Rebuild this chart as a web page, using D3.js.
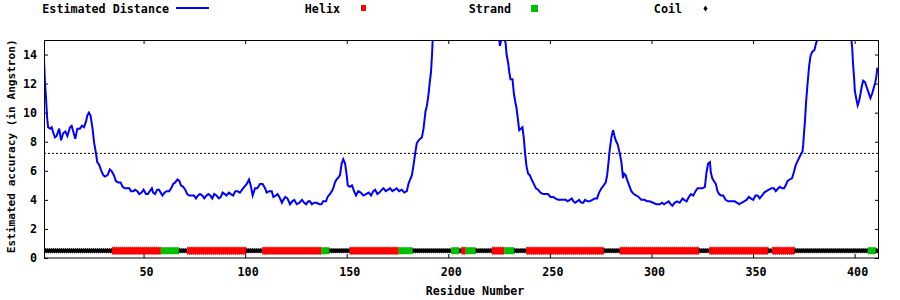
<!DOCTYPE html>
<html>
<head>
<meta charset="utf-8">
<script src="https://cdn.jsdelivr.net/npm/d3@7"></script>
<style>
  body { margin: 0; background: #fff; }
  text { font-family: "DejaVu Sans Mono", monospace; font-weight: bold; font-size: 11.7px; fill: #000; }
</style>
</head>
<body>
<svg id="chart" width="900" height="300"></svg>
<script>
// estimated distance per residue, [residue, angstrom]; values above 15 run off the top
var distance = [
  [1,13.6],[1.5,12.0],[2,11.0],[2.5,9.7],[3,9.0],[4,8.9],[4.8,9.0],[5.6,8.6],[6.4,8.3],[7.2,8.4],[8.5,8.9],[9.4,8.1],
  [10.5,8.6],[11.5,8.7],[12.5,8.4],[13.8,9.0],[14.6,9.1],[15.4,8.7],[16.4,8.2],[17.4,8.9],[18.7,8.9],[19.7,9.1],
  [20.7,9.0],[21.7,9.4],[22.3,9.8],[23.1,10.0],[23.9,9.8],[24.9,8.9],[25.7,7.9],[26.6,7.2],[27.2,6.6],[28.2,6.4],
  [29.2,6.0],[30.2,5.7],[31,5.6],[32.3,5.7],[33.4,6.1],[34.2,6.0],[35.4,5.7],[36.4,5.3],[37.5,5.2],[38.7,5.2],
  [39.7,4.9],[40.8,4.8],[42,4.8],[43,4.8],[43.8,4.6],[45,4.6],[45.9,4.7],[46.9,4.6],[47.9,4.4],[49,4.5],[50,4.7],
  [51.2,4.4],[52.1,4.4],[53.1,4.6],[54.1,4.8],[54.7,4.5],[55.7,4.4],[56.7,4.7],[57.7,4.7],[58.4,4.5],[59.3,4.3],
  [60.3,4.5],[61.3,4.6],[62.6,4.6],[63.6,4.8],[64.6,5.1],[65.6,5.2],[66.7,5.4],[67.6,5.3],[68.4,5.0],[69.5,4.9],
  [70.5,4.7],[71.5,4.4],[72.5,4.3],[73.6,4.3],[74.8,4.3],[75.8,4.1],[76.8,4.3],[77.8,4.4],[78.9,4.3],[79.9,4.1],
  [81,4.3],[81.9,4.4],[82.8,4.3],[83.8,4.1],[84.8,4.4],[85.9,4.3],[87.1,4.1],[88,4.2],[88.9,4.5],[90,4.4],
  [90.8,4.3],[92,4.5],[93,4.4],[94.1,4.3],[95.2,4.6],[96.2,4.6],[97.4,4.5],[99.1,4.8],[100.8,5.1],[101.9,5.4],
  [102.9,4.9],[103.7,4.3],[104.9,4.8],[106,4.8],[107.3,5.1],[108.6,5.1],[109.8,4.8],[110.6,4.5],[111.9,4.6],
  [113.1,4.6],[113.9,4.2],[115.2,4.3],[116,4.4],[117.2,4.1],[118.1,3.8],[118.8,4.0],[119.8,4.2],[120.8,4.1],
  [122.1,3.7],[123.2,3.9],[124.2,4.0],[125.4,3.7],[126.7,3.8],[128,4.0],[129.1,3.8],[130,3.7],[131.1,3.9],
  [131.9,3.9],[132.9,3.7],[133.9,3.8],[135.2,3.8],[136.5,3.7],[137.6,3.7],[138.4,3.9],[139.8,3.9],[140.6,4.2],
  [141.7,4.4],[142.7,4.6],[143.4,4.8],[144.2,5.2],[145,5.4],[146.2,5.6],[146.7,5.7],[147.5,6.5],[148.3,6.8],
  [149.2,6.5],[150,5.7],[150.5,5.0],[151.6,4.9],[152.6,5.0],[153.6,4.6],[154.6,4.3],[155.7,4.6],[156.9,4.5],
  [158.2,4.3],[159.5,4.4],[160.8,4.5],[162,4.3],[163.1,4.6],[164,4.7],[165.1,4.4],[166.1,4.5],[167.3,4.7],
  [168.1,4.8],[169.2,4.6],[170.4,4.7],[171.3,4.8],[172.5,4.6],[173.6,4.7],[174.6,4.8],[175.8,4.6],[177.1,4.7],
  [178.3,4.5],[179.6,4.6],[180.4,5.1],[181.2,5.4],[182.1,5.7],[182.9,6.4],[183.7,7.2],[184.5,7.9],[185.4,8.1],
  [186.2,8.2],[187,8.3],[187.8,8.9],[188.3,9.5],[188.8,10.1],[189.5,10.5],[190.3,11.3],[190.8,12.0],[191.5,12.8],
  [192,14.0],[192.3,15.0],[193,17],[200,22],[215,22],[224,17],[224.8,15.5],[225.4,14.6],[225.9,14.9],[226.5,15.2],
  [227.6,15.1],[228.2,14.8],[228.7,14.0],[229.5,13.4],[230,12.8],[230.6,12.3],[231.6,12.3],[232.3,11.3],
  [232.9,10.8],[233.6,10.3],[234.4,9.4],[234.9,8.8],[235.7,8.9],[236.5,9.0],[237.2,8.2],[237.8,7.2],[238.5,6.3],
  [239.3,5.8],[240.1,5.7],[241,5.4],[242.1,5.1],[243.1,4.8],[244.2,4.7],[245.4,4.5],[246.7,4.4],[248,4.4],
  [249.1,4.4],[250.3,4.2],[251.6,4.2],[252.7,4.1],[254.1,4.0],[255.4,4.0],[256.5,4.0],[257.8,4.0],[258.8,3.9],
  [259.8,4.0],[260.8,4.1],[261.6,3.9],[262.4,3.8],[263.4,3.9],[264.4,4.0],[265.5,3.8],[266.4,3.8],[267.3,4.0],
  [268.5,3.9],[269.6,3.9],[270.9,4.0],[272.1,4.1],[273.2,4.1],[274.2,4.5],[275.4,4.8],[276.5,5.0],[277.5,5.2],
  [278.2,5.7],[278.8,6.5],[279.5,7.5],[280.3,8.3],[281.1,8.8],[281.8,8.4],[282.4,8.1],[283.4,7.8],[284.4,7.2],
  [285.2,6.6],[286,5.5],[286.5,5.8],[287.3,5.7],[288.2,5.3],[289.3,4.9],[290.1,4.6],[291.3,4.4],[292.6,4.3],
  [293.7,4.2],[295,4.0],[296.7,4.0],[297.8,3.9],[299.1,3.9],[300.8,3.8],[302.4,3.7],[304.1,3.7],[305.2,3.8],
  [306.2,3.7],[307.3,3.8],[308.5,3.9],[309.5,3.7],[310.3,3.6],[311.4,3.8],[312.6,3.9],[313.9,3.8],[315.3,4.1],
  [316.1,4.0],[317.3,3.9],[318.4,4.2],[319.4,4.4],[320.6,4.3],[321.7,4.6],[322.7,4.8],[323.8,4.8],[325.1,4.8],
  [326.3,4.9],[327.1,5.9],[327.9,6.5],[328.8,6.6],[329.2,5.9],[329.9,5.5],[330.7,5.3],[331.7,5.1],[332.5,4.6],
  [333.3,4.4],[334.2,4.3],[335.3,4.3],[336.5,4.0],[337.8,3.9],[338.9,3.9],[339.9,3.9],[341,3.9],[342.2,3.8],
  [343.2,3.7],[344.3,3.8],[345.6,3.9],[346.8,4.0],[347.9,4.2],[348.9,4.1],[350.1,4.0],[351.2,4.3],[352.2,4.3],
  [353.3,4.1],[354.5,4.3],[355.5,4.5],[356.6,4.6],[357.8,4.7],[359.1,4.8],[360.2,4.8],[361.2,4.6],[362.4,4.8],
  [363.2,4.9],[364.3,4.8],[365.3,4.8],[366.1,5.0],[367,5.3],[368.1,5.4],[369.2,5.5],[370.1,5.9],[371,6.4],
  [371.7,6.6],[372.7,6.9],[373.8,7.2],[374.3,7.3],[374.7,7.8],[375.1,8.6],[375.6,9.5],[376.1,10.7],[376.6,11.6],
  [377.1,12.4],[377.6,13.2],[378.3,13.9],[379.2,14.2],[380.2,14.3],[380.9,14.7],[381.5,15.0],[382.5,17],[390,22],
  [397.5,18],[398.4,15.0],[398.8,14.5],[399.2,13.4],[399.7,12.5],[400.1,11.5],[400.9,10.9],[401.5,10.5],
  [402.2,10.8],[402.9,11.3],[403.5,11.8],[404.2,12.2],[405.1,12.1],[406.1,11.7],[406.8,11.4],[407.8,11.0],
  [408.6,11.3],[409.4,11.7],[410.2,12.1],[410.7,12.5],[411.2,13.1]
];

// secondary structure runs: [type, first residue, last residue]
var structure = [
  ["C",1,34],["H",35,58],["E",59,67],["C",68,71],["H",72,100],["C",101,108],["H",109,137],["E",138,141],
  ["C",142,151],["H",152,175],["E",176,182],["C",183,201],["E",202,205],["C",206,206],["H",207,208],
  ["E",209,213],["C",214,221],["H",222,227],["E",228,232],["C",233,238],["H",239,276],["C",277,284],
  ["H",285,323],["C",324,328],["H",329,357],["C",358,359],["H",360,370],["C",371,406],["E",407,410],["C",411,412]
];

var xTicks = [50, 100, 150, 200, 250, 300, 350, 400];
var yTicks = [0, 2, 4, 6, 8, 10, 12, 14];
var threshold = 7.2;
var ssLevel = 0.5;

var legendItems = [
  { label: "Estimated Distance", type: "line" },
  { label: "Helix", type: "H" },
  { label: "Strand", type: "E" },
  { label: "Coil", type: "C" }
];

var ssColor = { H: "#ff0000", E: "#00c000", C: "#000000" };

var svg = d3.select("#chart");
var x = d3.scaleLinear().domain([1, 412]).range([44, 879]);
var y = d3.scaleLinear().domain([0, 15]).range([258, 40]);

svg.append("clipPath").attr("id", "plot-clip")
  .append("rect")
  .attr("x", 44).attr("y", 40).attr("width", 835).attr("height", 218);

// axes, ticks pointing inward on all four sides
var axBottom = svg.append("g").attr("transform", "translate(0,258)")
  .call(d3.axisBottom(x).tickValues(xTicks).tickSizeInner(-4).tickSizeOuter(0).tickPadding(10));
var axTop = svg.append("g").attr("transform", "translate(0,40)")
  .call(d3.axisTop(x).tickValues(xTicks).tickSizeInner(-4).tickSizeOuter(0).tickFormat(""));
var axLeft = svg.append("g").attr("transform", "translate(44,0)")
  .call(d3.axisLeft(y).tickValues(yTicks).tickSizeInner(-4).tickSizeOuter(0).tickPadding(7));
var axRight = svg.append("g").attr("transform", "translate(879,0)")
  .call(d3.axisRight(y).tickValues(yTicks).tickSizeInner(-4).tickSizeOuter(0).tickFormat(""));

[axBottom, axTop, axLeft, axRight].forEach(function(g) {
  g.attr("font-size", null).attr("font-family", null);
  g.select(".domain").remove();
  g.selectAll("line").attr("stroke", "#000");
});
axBottom.selectAll("text").attr("dx", 2.5);

var plot = svg.append("g").attr("clip-path", "url(#plot-clip)");

plot.append("line")
  .attr("x1", 44).attr("x2", 879)
  .attr("y1", y(threshold)).attr("y2", y(threshold))
  .attr("stroke", "#000").attr("stroke-width", 1)
  .attr("stroke-dasharray", "2,2");

plot.append("path")
  .datum(distance)
  .attr("fill", "none")
  .attr("stroke", "#0000ff")
  .attr("stroke-width", 2)
  .attr("d", d3.line().x(d => x(d[0])).y(d => y(d[1])));

plot.selectAll("rect.ss")
  .data(structure)
  .enter()
  .append("rect")
  .attr("class", "ss")
  .attr("x", d => x(d[1] - 0.5))
  .attr("width", d => x(d[2] + 0.5) - x(d[1] - 0.5))
  .attr("y", d => y(ssLevel) - (d[0] == "C" ? 2 : 3.5))
  .attr("height", d => d[0] == "C" ? 4 : 7)
  .attr("fill", d => ssColor[d[0]])
  .attr("stroke", d => d[0] == "E" ? "none" : ssColor[d[0]])
  .attr("stroke-width", 1)
  .attr("stroke-dasharray", "1,1");

svg.append("rect")
  .attr("x", 44.5).attr("y", 40.5).attr("width", 834).attr("height", 217.5)
  .attr("fill", "none").attr("stroke", "#000").attr("stroke-width", 1);

// legend
var legendPos = [169, 340, 511, 682];
var legend = svg.selectAll("g.key")
  .data(legendItems)
  .enter()
  .append("g")
  .attr("class", "key")
  .attr("transform", (d, i) => `translate(${legendPos[i]}, 0)`);

legend.append("text")
  .attr("x", 0).attr("y", 13)
  .attr("text-anchor", "end")
  .text(d => d.label);

legend.each(function(d) {
  var g = d3.select(this);
  if (d.type == "line") {
    g.append("line").attr("x1", 7).attr("x2", 40).attr("y1", 8).attr("y2", 8)
      .attr("stroke", "#0000ff").attr("stroke-width", 2);
  } else if (d.type == "H") {
    g.append("rect").attr("x", 21).attr("y", 5).attr("width", 5).attr("height", 6)
      .attr("fill", ssColor.H);
  } else if (d.type == "E") {
    g.append("rect").attr("x", 20).attr("y", 5).attr("width", 7).attr("height", 7)
      .attr("fill", ssColor.E);
  } else {
    g.append("path").attr("d", "M23.5,5.5 L25.5,8.5 L23.5,11.5 L21.5,8.5 Z")
      .attr("fill", ssColor.C);
  }
});

// axis titles
svg.append("text")
  .attr("x", 475).attr("y", 295)
  .attr("text-anchor", "middle")
  .text("Residue Number");

svg.append("text")
  .attr("transform", "translate(14.5,146.3) rotate(-90)")
  .attr("text-anchor", "middle")
  .style("font-size", "11.1px")
  .text("Estimated accuracy (in Angstron)");
</script>
</body>
</html>
